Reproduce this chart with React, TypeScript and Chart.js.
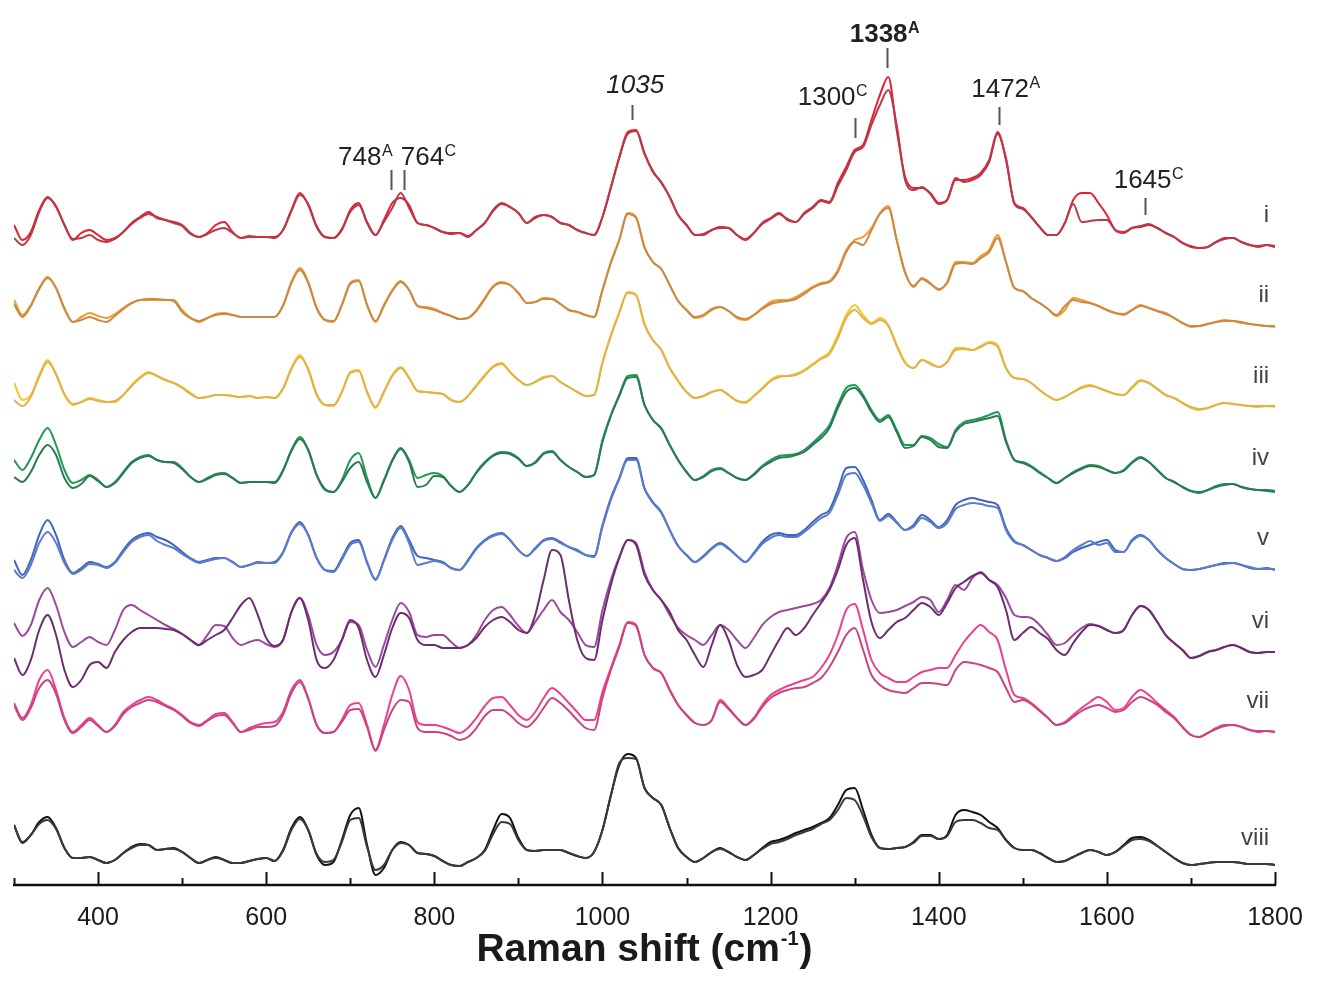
import { useEffect, useRef } from "react";
import { Chart, registerables } from "chart.js";

Chart.register(...registerables);

// Raman shift sampling grid (cm-1)
const ramanShift = [
  300, 310, 320, 330, 340, 350, 360, 370, 380, 390,
  400, 410, 420, 430, 440, 450, 460, 470, 480, 490,
  500, 510, 520, 530, 540, 550, 560, 570, 580, 590,
  600, 610, 620, 630, 640, 650, 660, 670, 680, 690,
  700, 710, 720, 730, 740, 750, 760, 770, 780, 790,
  800, 810, 820, 830, 840, 850, 860, 870, 880, 890,
  900, 910, 920, 930, 940, 950, 960, 970, 980, 990,
  1000, 1010, 1020, 1030, 1040, 1050, 1060, 1070, 1080, 1090,
  1100, 1110, 1120, 1130, 1140, 1150, 1160, 1170, 1180, 1190,
  1200, 1210, 1220, 1230, 1240, 1250, 1260, 1270, 1280, 1290,
  1300, 1310, 1320, 1330, 1340, 1350, 1360, 1370, 1380, 1390,
  1400, 1410, 1420, 1430, 1440, 1450, 1460, 1470, 1480, 1490,
  1500, 1510, 1520, 1530, 1540, 1550, 1560, 1570, 1580, 1590,
  1600, 1610, 1620, 1630, 1640, 1650, 1660, 1670, 1680, 1690,
  1700, 1710, 1720, 1730, 1740, 1750, 1760, 1770, 1780, 1790,
  1800,
];

const spectrumNames = ["i", "ii", "iii", "iv", "v", "vi", "vii", "viii"];
// vertical stacking offsets (a.u.)
const spectrumOffsets = [632, 552, 472, 382, 297, 187, 122, 2];

// intensities (a.u.), two replicate spectra per sample
const iA = [
  25, 10, 18, 40, 53, 43, 25, 10, 17, 20,
  15, 10, 12, 18, 27, 33, 38, 32, 30, 28,
  25, 17, 13, 17, 25, 28, 18, 12, 14, 13,
  13, 13, 20, 40, 57, 45, 23, 13, 12, 20,
  40, 47, 27, 15, 30, 47, 52, 45, 27, 25,
  22, 18, 17, 17, 13, 20, 27, 40, 47, 43,
  37, 27, 33, 35, 33, 27, 25, 20, 17, 15,
  33, 63, 93, 118, 120, 97, 78, 68, 53, 35,
  25, 15, 15, 20, 23, 22, 15, 10, 17, 27,
  32, 37, 30, 28, 37, 43, 50, 48, 67, 83,
  100, 105, 130, 155, 173, 120, 73, 62, 62, 57,
  47, 50, 70, 70, 72, 77, 90, 118, 90, 47,
  42, 33, 23, 15, 15, 27, 50, 57, 57, 47,
  35, 20, 17, 22, 23, 25, 22, 17, 13, 7,
  3, 2, 3, 8, 12, 12, 8, 5, 3, 5,
  3,
];
const iB = [
  12, 5, 15, 38, 52, 44, 25, 11, 12, 15,
  10, 8, 11, 18, 26, 32, 36, 33, 30, 27,
  24, 16, 13, 16, 20, 22, 17, 12, 13, 13,
  13, 12, 20, 39, 55, 46, 24, 13, 12, 21,
  38, 45, 28, 15, 28, 42, 57, 42, 27, 25,
  22, 18, 16, 17, 14, 20, 27, 39, 46, 43,
  37, 27, 32, 35, 33, 27, 25, 20, 17, 15,
  33, 62, 92, 116, 119, 96, 79, 67, 53, 35,
  25, 15, 16, 20, 22, 22, 15, 11, 17, 26,
  31, 36, 31, 28, 36, 42, 49, 47, 64, 80,
  98, 103, 125, 145, 160, 125, 70, 60, 63, 56,
  46, 50, 72, 68, 70, 75, 88, 116, 92, 46,
  41, 33, 23, 15, 15, 27, 46, 28, 29, 30,
  30, 20, 18, 22, 24, 26, 22, 17, 13, 7,
  4, 2, 3, 8, 11, 12, 8, 5, 4, 5,
  4,
];
const iiA = [
  30, 15, 25, 42, 53, 42, 22, 8, 13, 17,
  14, 12, 16, 22, 27, 30, 30, 30, 30, 30,
  20, 12, 8, 12, 16, 17, 15, 13, 13, 13,
  13, 13, 25, 48, 62, 48, 22, 10, 8, 25,
  47, 50, 25, 8, 25, 40, 49, 40, 24, 23,
  21, 17, 14, 11, 12, 20, 32, 44, 48, 45,
  37, 27, 28, 32, 31, 26, 20, 18, 15, 13,
  40, 68, 90, 117, 113, 82, 68, 61, 45, 29,
  20, 12, 14, 20, 23, 19, 12, 10, 15, 22,
  28, 30, 30, 33, 38, 43, 47, 49, 60, 80,
  90, 93, 102, 117, 124, 90, 58, 43, 52, 47,
  40, 48, 68, 68, 67, 74, 80, 95, 68, 42,
  39, 32, 27, 21, 14, 20, 32, 30, 27, 24,
  20, 17, 15, 20, 25, 22, 19, 17, 12, 7,
  3, 4, 6, 8, 10, 9, 7, 6, 5, 4,
  3,
];
const iiB = [
  26, 13, 24, 41, 52, 42, 21, 8, 10, 13,
  10, 8, 14, 21, 27, 30, 31, 31, 30, 29,
  18, 12, 9, 12, 15, 16, 15, 13, 13, 13,
  13, 13, 24, 47, 60, 47, 22, 10, 9, 25,
  46, 49, 25, 9, 24, 39, 48, 40, 24, 22,
  20, 17, 14, 11, 12, 19, 31, 43, 47, 45,
  37, 27, 28, 31, 31, 26, 20, 18, 15, 13,
  40, 67, 90, 116, 112, 83, 68, 61, 45, 29,
  20, 13, 15, 21, 23, 19, 13, 11, 15, 21,
  26, 28, 29, 31, 36, 42, 46, 48, 58, 78,
  88, 85, 100, 116, 122, 90, 57, 44, 51, 46,
  41, 47, 66, 67, 66, 72, 78, 92, 68, 42,
  39, 32, 27, 21, 15, 24, 30, 28, 27, 24,
  20, 17, 16, 20, 24, 22, 19, 16, 12, 7,
  4, 4, 6, 8, 9, 9, 8, 6, 5, 4,
  4,
];
const iiiA = [
  27, 10, 15, 35, 50, 35, 15, 5, 8, 12,
  10, 8, 8, 15, 25, 33, 38, 34, 30, 27,
  23, 17, 12, 13, 15, 15, 14, 13, 14, 12,
  13, 12, 22, 42, 55, 40, 15, 5, 4, 18,
  38, 40, 18, 2, 18, 35, 43, 32, 19, 18,
  17, 16, 10, 8, 14, 25, 35, 44, 47, 38,
  30, 25, 28, 33, 34, 28, 23, 18, 14, 15,
  48, 75, 98, 118, 115, 85, 70, 60, 42, 29,
  18, 12, 14, 18, 20, 15, 9, 7, 14, 22,
  30, 34, 34, 36, 40, 46, 52, 58, 75, 95,
  105, 95, 87, 92, 85, 65, 48, 42, 50, 47,
  43, 48, 62, 62, 60, 64, 68, 65, 42, 32,
  31, 27, 20, 14, 10, 13, 18, 23, 25, 22,
  19, 16, 15, 23, 30, 27, 21, 15, 12, 7,
  2, 0, 2, 5, 7, 6, 5, 4, 3, 4,
  3,
];
const iiiB = [
  10, 4, 13, 33, 48, 36, 16, 6, 8, 11,
  9, 8, 9, 15, 24, 32, 37, 34, 30, 27,
  22, 16, 12, 13, 15, 15, 14, 13, 14, 12,
  13, 12, 21, 41, 53, 41, 16, 5, 5, 18,
  37, 39, 18, 3, 18, 34, 42, 32, 19, 18,
  17, 16, 10, 8, 14, 24, 34, 43, 46, 38,
  30, 25, 28, 32, 34, 28, 23, 18, 14, 15,
  47, 74, 97, 117, 115, 86, 70, 60, 42, 29,
  18, 12, 14, 18, 20, 15, 9, 8, 14, 21,
  29, 33, 34, 35, 39, 45, 51, 56, 72, 92,
  100, 92, 86, 90, 84, 64, 47, 42, 50, 46,
  43, 48, 60, 61, 60, 63, 67, 63, 42, 32,
  31, 27, 20, 14, 10, 13, 18, 22, 24, 22,
  19, 16, 15, 22, 29, 27, 21, 15, 12, 7,
  3, 1, 2, 5, 7, 6, 5, 4, 4, 4,
  4,
];
const ivA = [
  40, 30, 42, 60, 72, 55, 30, 17, 20, 25,
  20, 13, 18, 28, 38, 43, 45, 40, 38, 38,
  32, 23, 18, 22, 26, 27, 22, 17, 18, 18,
  18, 18, 30, 50, 63, 50, 25, 10, 8, 20,
  40, 47, 22, 2, 20, 40, 52, 40, 22, 25,
  27, 24, 14, 8, 15, 28, 38, 45, 48, 47,
  42, 34, 38, 47, 49, 40, 33, 28, 23, 25,
  60, 85, 105, 124, 125, 95, 80, 72, 55, 40,
  28, 20, 24, 30, 32, 27, 22, 20, 26, 34,
  40, 44, 45, 46, 50, 57, 65, 75, 95, 112,
  115, 105, 90, 80, 85, 70, 55, 55, 64, 62,
  56, 53, 70, 78, 80, 82, 85, 88, 60, 40,
  38, 34, 28, 22, 17, 22, 28, 32, 35, 34,
  30, 27, 30, 38, 43, 38, 30, 22, 18, 13,
  9, 7, 10, 14, 16, 16, 13, 11, 10, 9,
  8,
];
const ivB = [
  23, 18, 28, 45, 55, 45, 22, 12, 16, 24,
  19, 13, 17, 27, 37, 42, 44, 40, 38, 37,
  31, 23, 18, 21, 25, 26, 22, 17, 18, 18,
  18, 17, 29, 49, 61, 50, 25, 11, 8, 18,
  32, 38, 18, 2, 19, 39, 51, 38, 13, 15,
  24, 23, 14, 8, 15, 27, 37, 44, 47, 46,
  41, 34, 37, 46, 48, 40, 33, 28, 23, 25,
  58, 84, 104, 122, 123, 95, 80, 71, 55, 40,
  28, 20, 23, 29, 31, 27, 22, 20, 25, 33,
  38, 42, 43, 45, 48, 55, 62, 72, 92, 108,
  112, 103, 88, 78, 83, 68, 52, 54, 63, 60,
  53, 52, 68, 76, 78, 80, 82, 84, 58, 40,
  37, 33, 27, 22, 17, 22, 27, 31, 34, 33,
  30, 27, 29, 37, 42, 38, 30, 22, 18, 13,
  9, 8, 10, 13, 15, 16, 13, 11, 10, 10,
  9,
];
const vA = [
  25, 10, 25, 50, 65, 50, 25, 12, 17, 23,
  21, 18, 23, 35, 45, 50, 52, 48, 45, 40,
  33, 27, 23, 25, 27, 27, 23, 18, 20, 23,
  22, 23, 33, 53, 63, 50, 27, 15, 14, 27,
  42, 45, 23, 5, 25, 47, 59, 45, 29, 27,
  25, 23, 17, 15, 25, 37, 45, 50, 52, 45,
  35, 29, 37, 45, 47, 43, 38, 35, 30, 29,
  60, 87, 107, 127, 127, 97, 83, 73, 55, 39,
  30, 23, 29, 37, 42, 37, 29, 23, 32, 43,
  50, 52, 50, 50, 55, 63, 70, 75, 95, 117,
  118, 105, 85, 65, 71, 63, 55, 60, 70, 65,
  58, 65, 80, 85, 87, 85, 83, 80, 57, 44,
  40, 35, 30, 27, 24, 27, 33, 37, 40, 43,
  45, 35, 33, 45, 50, 45, 35, 27, 21, 16,
  15, 16, 18, 20, 22, 22, 20, 17, 16, 17,
  15,
];
const vB = [
  15, 7, 20, 42, 53, 42, 22, 11, 15, 21,
  20, 17, 22, 33, 43, 48, 50, 44, 40, 37,
  31, 26, 22, 24, 26, 27, 23, 18, 20, 22,
  22, 22, 32, 52, 61, 50, 27, 15, 13, 25,
  40, 43, 22, 6, 24, 45, 57, 42, 20, 22,
  24, 22, 17, 15, 24, 36, 44, 49, 51, 45,
  35, 29, 36, 44, 46, 42, 38, 34, 30, 28,
  58, 85, 106, 125, 125, 96, 82, 72, 55, 39,
  30, 23, 28, 36, 41, 36, 29, 23, 31, 41,
  47, 50, 48, 48, 53, 60, 67, 72, 90, 110,
  112, 100, 82, 64, 69, 62, 55, 58, 67, 63,
  57, 62, 76, 80, 82, 81, 79, 77, 55, 43,
  40, 35, 30, 27, 24, 28, 35, 40, 44, 40,
  42, 33, 33, 44, 49, 45, 35, 27, 21, 16,
  15, 16, 18, 20, 21, 22, 20, 18, 16, 16,
  16,
];
const viA = [
  72, 59, 70, 95, 107, 90, 63, 48, 53, 58,
  53, 50, 65, 85, 90, 85, 80, 75, 70, 66,
  61, 55, 50, 60, 70, 69, 57, 50, 53, 55,
  51, 48, 55, 83, 97, 80, 50, 40, 43, 55,
  73, 70, 45, 28, 50, 75, 92, 83, 60, 58,
  60, 60, 53, 47, 50, 60, 75, 85, 88, 80,
  69, 62, 73, 85, 95, 83, 75, 63, 50, 48,
  85, 115, 138, 155, 152, 123, 105, 95, 80, 67,
  60, 55, 50, 60, 70, 65, 55, 47, 57, 70,
  78, 83, 85, 87, 89, 91, 95, 107, 130, 157,
  163, 125, 95, 82, 83, 85, 89, 93, 98, 95,
  83, 95, 110, 105, 117, 123, 115, 110, 97, 80,
  78, 77, 70, 60, 50, 52, 60, 67, 71, 69,
  65, 62, 65, 80, 89, 85, 73, 60, 52, 45,
  37, 39, 43, 45, 48, 50, 47, 43, 42, 43,
  43,
];
const viB = [
  37, 20, 35, 65, 80, 60, 25, 8, 15, 30,
  33, 27, 43, 55, 63, 67, 67, 67, 66, 65,
  61, 55, 50, 55, 60, 65, 77, 90, 97, 80,
  57, 49, 55, 83, 97, 75, 35, 27, 35, 55,
  75, 67, 35, 18, 40, 67, 82, 77, 55, 50,
  50, 47, 47, 47, 50, 57, 68, 75, 78, 73,
  65, 62, 80, 115, 145, 140, 95, 55, 37, 35,
  75, 110, 137, 155, 150, 120, 105, 95, 83, 65,
  55, 40, 28, 50, 70, 55, 30, 18, 20, 25,
  40, 55, 67, 60, 67, 80, 92, 105, 125, 150,
  157, 115, 73, 57, 65, 73, 77, 85, 92, 88,
  80, 92, 107, 113, 119, 122, 115, 108, 85, 55,
  62, 68, 62, 56, 45, 40, 52, 63, 70, 69,
  65, 62, 65, 80, 89, 85, 73, 60, 52, 45,
  37, 39, 43, 45, 48, 50, 47, 43, 42, 43,
  43,
];
const viiA = [
  57, 42, 55, 80, 90, 70, 42, 28, 35, 42,
  35, 28, 35, 48, 55, 60, 63, 60, 55, 51,
  45, 38, 35, 40, 46, 47, 38, 28, 32, 35,
  37, 38, 48, 70, 80, 62, 35, 27, 28, 40,
  55, 57, 35, 10, 35, 65, 84, 70, 38, 35,
  35, 33, 30, 27, 32, 42, 54, 62, 63, 55,
  45, 40, 48, 62, 72, 66, 57, 48, 40, 40,
  68, 92, 115, 138, 135, 105, 92, 87, 70, 55,
  45, 37, 35, 40, 60, 52, 42, 35, 42, 55,
  65, 70, 74, 77, 80, 83, 92, 105, 125, 150,
  156, 130, 100, 87, 82, 78, 78, 83, 88, 90,
  92, 92, 105, 118, 128, 135, 128, 120, 90, 65,
  62, 57, 50, 42, 35, 38, 45, 52, 58, 63,
  58, 50, 52, 63, 70, 65, 57, 50, 43, 33,
  25, 23, 27, 32, 35, 35, 33, 30, 28, 29,
  28,
];
const viiB = [
  55, 40, 52, 72, 80, 66, 40, 27, 33, 40,
  34, 28, 34, 46, 53, 57, 60, 58, 54, 50,
  44, 37, 34, 39, 44, 45, 37, 28, 30, 33,
  33, 34, 45, 67, 78, 61, 35, 27, 28, 38,
  50, 51, 33, 9, 30, 50, 60, 58, 32, 28,
  28, 27, 24, 20, 23, 32, 44, 50, 50, 45,
  37, 33, 40, 52, 62, 57, 49, 40, 32, 30,
  62, 90, 113, 137, 134, 105, 92, 87, 70, 55,
  45, 37, 35, 40, 58, 51, 42, 35, 41, 53,
  62, 67, 70, 72, 73, 77, 82, 93, 108, 125,
  132, 110, 85, 75, 70, 68, 67, 72, 77, 77,
  76, 75, 90, 98, 97, 95, 92, 88, 72, 58,
  60, 56, 49, 42, 35, 37, 43, 49, 53, 55,
  52, 48, 50, 58, 63, 60, 55, 48, 42, 33,
  25, 23, 27, 31, 34, 35, 33, 30, 29, 29,
  28,
];
const viiiA = [
  55, 37, 45, 58, 63, 52, 32, 22, 22, 23,
  20, 17, 20, 27, 33, 36, 35, 30, 31, 32,
  28, 22, 17, 20, 23, 20, 17, 17, 19, 21,
  22, 19, 30, 52, 63, 50, 25, 15, 18, 40,
  65, 72, 35, 5, 12, 30, 38, 35, 27, 26,
  24, 19, 15, 14, 18, 22, 30, 50, 66, 62,
  42, 30, 29, 30, 30, 30, 27, 24, 22, 28,
  50, 85, 115, 126, 122, 92, 82, 75, 52, 32,
  23, 18, 22, 28, 32, 28, 23, 20, 25, 32,
  38, 40, 43, 47, 50, 53, 57, 62, 75, 90,
  92, 70, 45, 32, 31, 32, 33, 38, 45, 45,
  41, 45, 65, 70, 68, 65, 58, 52, 40, 32,
  30, 30, 27, 22, 18, 19, 23, 27, 30, 28,
  25, 28, 35, 42, 43, 40, 34, 28, 22, 17,
  15, 16, 17, 18, 18, 18, 17, 16, 16, 16,
  15,
];
const viiiB = [
  55, 38, 45, 56, 60, 51, 32, 22, 22, 23,
  20, 17, 20, 27, 32, 35, 35, 30, 31, 31,
  28, 22, 17, 20, 22, 20, 17, 17, 19, 21,
  22, 19, 29, 50, 61, 50, 26, 18, 20, 38,
  60, 62, 33, 10, 15, 30, 37, 35, 27, 26,
  24, 19, 15, 14, 18, 22, 29, 46, 58, 56,
  40, 30, 29, 30, 30, 30, 27, 24, 22, 28,
  50, 84, 117, 122, 121, 92, 82, 75, 52, 32,
  23, 18, 22, 28, 31, 28, 23, 20, 25, 31,
  36, 38, 41, 45, 48, 51, 56, 60, 70, 82,
  80, 64, 43, 32, 31, 32, 33, 37, 44, 44,
  41, 44, 58, 60, 60, 57, 52, 50, 40, 32,
  30, 30, 27, 22, 18, 19, 23, 27, 30, 28,
  25, 28, 34, 40, 41, 39, 34, 28, 22, 17,
  15, 16, 17, 18, 18, 18, 17, 16, 16, 16,
  15,
];

const replicateA = [iA, iiA, iiiA, ivA, vA, viA, viiA, viiiA];
const replicateB = [iB, iiB, iiiB, ivB, vB, viB, viiB, viiiB];

const colorsA = ["#e4202e", "#f39a2c", "#f7c52a", "#1c9b52", "#3f66bd", "#9a4a9c", "#ec3f8e", "#111111"];
const colorsB = ["#b83a48", "#c98a45", "#e0b24a", "#2c7a55", "#5b7ccc", "#6c2d70", "#c9457f", "#3a3a3a"];

// axis
const xMin = 300;
const xMax = 1800;
const minorTicks = [300, 500, 700, 900, 1100, 1300, 1500, 1700];
const majorTicks = [400, 600, 800, 1000, 1200, 1400, 1600, 1800];
const axisTitle = "Raman shift (cm";
const axisTitleSup = "-1";

// band assignments
const peakShifts = [748, 764, 1035, 1300, 1338, 1472, 1645];
const peakNames = ["748", "764", "1035", "1300", "1338", "1472", "1645"];
const peakSups = ["A", "C", "", "C", "A", "A", "C"];

// annotation layout (in axis units)
const peakLayout = [
  { tx: 751, align: "right", base: 717, lo: 692, hi: 712, weight: "normal", style: "normal" },
  { tx: 760, align: "left", base: 717, lo: 692, hi: 712, weight: "normal", style: "normal" },
  { tx: 1039, align: "center", base: 789, lo: 762, hi: 777, weight: "normal", style: "italic" },
  { tx: 1316, align: "right", base: 777, lo: 744, hi: 764, weight: "normal", style: "normal" },
  { tx: 1336, align: "center", base: 840, lo: 814, hi: 834, weight: "bold", style: "normal" },
  { tx: 1480, align: "center", base: 785, lo: 757, hi: 775, weight: "normal", style: "normal" },
  { tx: 1650, align: "center", base: 694, lo: 667, hi: 684, weight: "normal", style: "normal" },
];
const nameLayoutY = [660, 580, 499, 417, 337, 254, 174, 37];

const FONT = '"Liberation Sans", Arial, Helvetica, sans-serif';

function drawParts(ctx, parts, x, baseline, align) {
  const widths = parts.map((p) => {
    ctx.font = `${p.style || "normal"} ${p.weight || "normal"} ${p.size}px ${FONT}`;
    return ctx.measureText(p.text).width + (p.gap || 0);
  });
  const total = widths.reduce((a, b) => a + b, 0);
  let left = align === "left" ? x : align === "right" ? x - total : x - total / 2;
  ctx.textAlign = "left";
  ctx.textBaseline = "alphabetic";
  parts.forEach((p, i) => {
    ctx.font = `${p.style || "normal"} ${p.weight || "normal"} ${p.size}px ${FONT}`;
    ctx.fillText(p.text, left + (p.gap || 0) / 2, baseline - (p.rise || 0));
    left += widths[i];
  });
}

const decorPlugin = {
  id: "decor",
  afterDraw(chart) {
    const { ctx, chartArea } = chart;
    const xs = chart.scales.x;
    const ys = chart.scales.y;
    ctx.save();

    // x axis line and ticks
    const axisY = chartArea.bottom + 3;
    ctx.strokeStyle = "#111";
    ctx.lineWidth = 2.5;
    ctx.beginPath();
    ctx.moveTo(xs.getPixelForValue(xMin) - 1, axisY);
    ctx.lineTo(xs.getPixelForValue(xMax) + 1, axisY);
    ctx.stroke();
    ctx.lineWidth = 2;
    minorTicks.forEach((t) => {
      const px = Math.round(xs.getPixelForValue(t)) + 0.5;
      ctx.beginPath();
      ctx.moveTo(px, axisY);
      ctx.lineTo(px, axisY - 7);
      ctx.stroke();
    });
    majorTicks.forEach((t) => {
      const px = Math.round(xs.getPixelForValue(t)) + 0.5;
      ctx.beginPath();
      ctx.moveTo(px, axisY);
      ctx.lineTo(px, axisY - 13);
      ctx.stroke();
    });

    // tick labels
    ctx.fillStyle = "#1a1a1a";
    ctx.font = `25px ${FONT}`;
    ctx.textAlign = "center";
    ctx.textBaseline = "middle";
    majorTicks.forEach((t) => {
      ctx.fillText(String(t), xs.getPixelForValue(t), axisY + 33);
    });

    // axis title
    const cx = (xs.getPixelForValue(xMin) + xs.getPixelForValue(xMax)) / 2;
    drawParts(
      ctx,
      [
        { text: axisTitle, size: 39, weight: "bold" },
        { text: axisTitleSup, size: 20, weight: "bold", rise: 16, gap: 2 },
        { text: ")", size: 39, weight: "bold" },
      ],
      cx,
      axisY + 76,
      "center"
    );

    // band markers
    peakShifts.forEach((s, i) => {
      const L = peakLayout[i];
      const px = Math.round(xs.getPixelForValue(s)) + 0.5;
      ctx.strokeStyle = "#555";
      ctx.lineWidth = 2;
      ctx.beginPath();
      ctx.moveTo(px, ys.getPixelForValue(L.lo));
      ctx.lineTo(px, ys.getPixelForValue(L.hi));
      ctx.stroke();
      ctx.fillStyle = "#222";
      const parts = [{ text: peakNames[i], size: 26, weight: L.weight, style: L.style }];
      if (peakSups[i]) parts.push({ text: peakSups[i], size: 16, weight: L.weight, style: L.style, rise: 9, gap: 1 });
      drawParts(ctx, parts, xs.getPixelForValue(L.tx), ys.getPixelForValue(L.base), L.align);
    });

    // spectrum names
    ctx.fillStyle = "#444";
    spectrumNames.forEach((n, i) => {
      drawParts(ctx, [{ text: n, size: 24 }], xs.getPixelForValue(1793), ys.getPixelForValue(nameLayoutY[i]), "right");
    });

    ctx.restore();
  },
};

export default function App() {
  const ref = useRef(null);
  useEffect(() => {
    document.body.style.margin = "0";
    const datasets = [];
    spectrumNames.forEach((name, g) => {
      [replicateB[g], replicateA[g]].forEach((vals, r) => {
        datasets.push({
          label: `${name}-${r}`,
          data: ramanShift.map((x, k) => ({ x, y: spectrumOffsets[g] + vals[k] })),
          borderColor: r === 0 ? colorsB[g] : colorsA[g],
          borderWidth: 2,
          pointRadius: 0,
          fill: false,
          cubicInterpolationMode: "monotone",
        });
      });
    });
    const chart = new Chart(ref.current, {
      type: "line",
      data: { datasets },
      options: {
        responsive: false,
        animation: false,
        devicePixelRatio: 1,
        layout: { padding: { left: 14, right: 43, top: 0, bottom: 115 } },
        plugins: { legend: { display: false }, tooltip: { enabled: false } },
        scales: {
          x: { type: "linear", min: xMin, max: xMax, display: false },
          y: { type: "linear", min: 0, max: 882, display: false },
        },
      },
      plugins: [decorPlugin],
    });
    return () => chart.destroy();
  }, []);
  return (
    <div style={{ width: 1318, height: 997, background: "#fff" }}>
      <canvas ref={ref} width={1318} height={997} style={{ display: "block" }} />
    </div>
  );
}
